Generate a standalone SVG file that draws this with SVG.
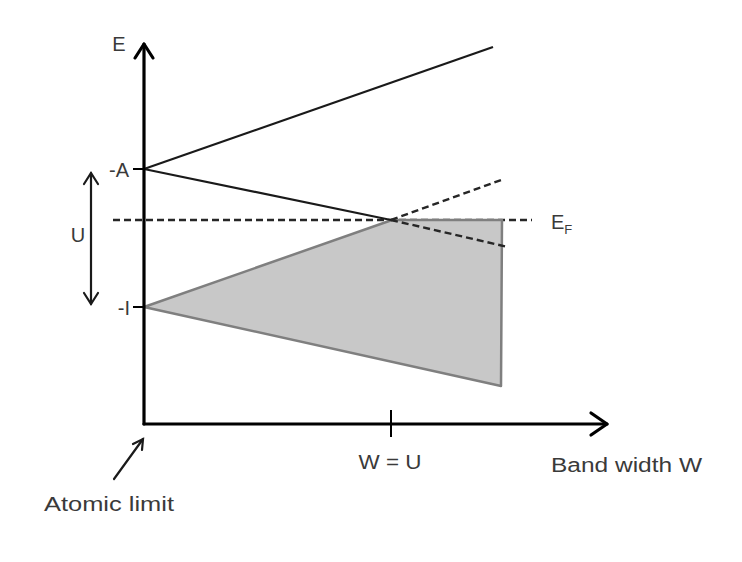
<svg xmlns="http://www.w3.org/2000/svg" width="742" height="562" viewBox="0 0 742 562">
<defs>
<style>
.t{font-family:"Liberation Sans",Arial,sans-serif;fill:#3a3a3a;font-size:20px}
.ax{stroke:#000;stroke-width:3.2;fill:none;stroke-linecap:round;stroke-linejoin:round}
.ln{stroke:#1a1a1a;stroke-width:2.2;fill:none}
.ds{stroke:#262626;stroke-width:2.4;fill:none;stroke-dasharray:7 4}
</style>
</defs>
<rect width="742" height="562" fill="#fff"/>
<g id="connectors">
<line class="ds" x1="113" y1="220" x2="532" y2="220"/>
<g id="band">
<polygon points="144,307 392,220 502,220 501,386" fill="#c8c8c8" stroke="#7f7f7f" stroke-width="2.5" stroke-linejoin="round"/>
</g>
<line class="ln" x1="144" y1="169" x2="493" y2="47"/>
<line class="ln" x1="144" y1="169" x2="391" y2="220"/>
<line class="ds" x1="391" y1="220" x2="508" y2="247"/>
<line class="ds" x1="391" y1="220" x2="501" y2="180"/>
<line class="ax" x1="144" y1="424" x2="144" y2="44"/>
<polyline class="ax" points="135,58 144,44 153,58"/>
<line class="ax" x1="144" y1="424" x2="607" y2="424"/>
<polyline class="ax" points="591,413 607,424 591,435"/>
<line stroke="#000" stroke-width="2" x1="133" y1="169" x2="144" y2="169"/>
<line stroke="#000" stroke-width="2" x1="133" y1="307" x2="144" y2="307"/>
<line stroke="#000" stroke-width="2" x1="391" y1="410" x2="391" y2="437"/>
<g stroke="#1a1a1a" stroke-width="2.2" fill="none" stroke-linecap="round">
<line x1="91" y1="173" x2="91" y2="304"/>
<polyline points="84,184 91,173 98,184"/>
<polyline points="84,293 91,304 98,293"/>
<line x1="114" y1="479" x2="143" y2="439"/>
<polyline points="133,444 143,439 142,450"/>
</g>
</g>
<g id="labels">
<text class="t" x="119" y="51" text-anchor="middle">E</text>
<text class="t" x="129" y="177" text-anchor="end">-A</text>
<text class="t" x="130" y="315" text-anchor="end">-I</text>
<text class="t" x="78" y="242" text-anchor="middle" font-size="22">U</text>
<text class="t" x="551" y="229">E<tspan font-size="13" dy="5">F</tspan></text>
<text class="t" x="390" y="469" text-anchor="middle" textLength="63" lengthAdjust="spacingAndGlyphs">W = U</text>
<text class="t" x="551" y="472" textLength="151" lengthAdjust="spacingAndGlyphs">Band width W</text>
<text class="t" x="44" y="511" textLength="130" lengthAdjust="spacingAndGlyphs">Atomic limit</text>
</g>
</svg>
